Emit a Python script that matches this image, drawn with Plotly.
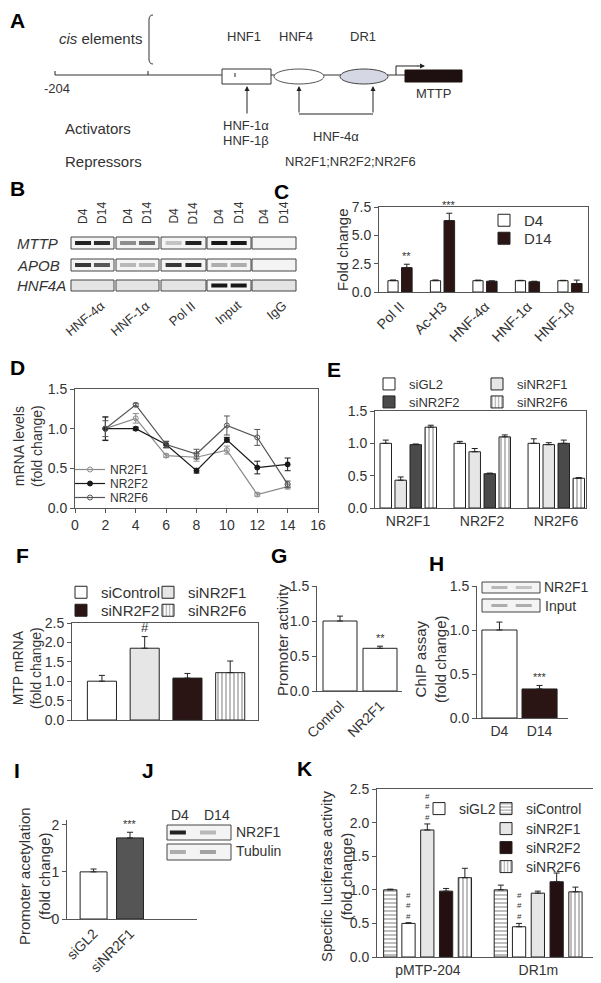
import plotly.graph_objects as go

# the page body has an 8px margin, so the figure is drawn 8px in from the corner
OFF = 8
W, H = 601 - OFF, 983 - OFF
FONT = "Liberation Sans, Arial, sans-serif"
INK = "#222222"
AXC = "#555555"
TXT = "#333333"

# ---- data ----
# C: ChIP at MTTP promoter
c_targets = ["Pol II", "Ac-H3", "HNF-4α", "HNF-1α", "HNF-1β"]
c_d4 = [1.0, 1.0, 1.0, 1.0, 1.0]
c_d4_err = [0.06, 0.06, 0.05, 0.03, 0.03]
c_d14 = [2.15, 6.3, 0.95, 0.9, 0.75]
c_d14_err = [0.3, 0.65, 0.03, 0.05, 0.3]

# D: mRNA time course
d_days = [2, 4, 6, 8, 10, 12, 14]
d_nr2f1 = [1.0, 1.13, 0.66, 0.64, 0.73, 0.17, 0.27]
d_nr2f1_err = [0.14, 0.06, 0.02, 0.05, 0.05, 0.02, 0.03]
d_nr2f2 = [1.0, 1.0, 0.8, 0.47, 0.86, 0.51, 0.55]
d_nr2f2_err = [0.15, 0.02, 0.04, 0.03, 0.03, 0.08, 0.08]
d_nr2f6 = [1.0, 1.3, 0.8, 0.68, 1.04, 0.89, 0.3]
d_nr2f6_err = [0.1, 0.02, 0.04, 0.06, 0.12, 0.1, 0.04]

# E: knockdown efficiency
e_genes = ["NR2F1", "NR2F2", "NR2F6"]
e_sigl2 = [1.0, 1.0, 1.0]
e_sigl2_err = [0.05, 0.03, 0.07]
e_sinr2f1 = [0.43, 0.87, 0.98]
e_sinr2f1_err = [0.05, 0.05, 0.03]
e_sinr2f2 = [0.98, 0.53, 1.0]
e_sinr2f2_err = [0.01, 0.01, 0.05]
e_sinr2f6 = [1.25, 1.1, 0.46]
e_sinr2f6_err = [0.03, 0.03, 0.01]

# F: MTP mRNA
f_groups = ["siControl", "siNR2F1", "siNR2F2", "siNR2F6"]
f_mtp = [1.0, 1.85, 1.08, 1.22]
f_err = [0.15, 0.3, 0.12, 0.3]

# G: promoter activity
g_cond = ["Control", "NR2F1"]
g_val = [1.0, 0.61]
g_err = [0.07, 0.03]

# H: ChIP assay NR2F1
h_day = ["D4", "D14"]
h_val = [1.0, 0.33]
h_err = [0.09, 0.04]

# I: promoter acetylation
i_cond = ["siGL2", "siNR2F1"]
i_val = [1.0, 1.72]
i_err = [0.06, 0.12]

# K: luciferase
k_constructs = ["pMTP-204", "DR1m"]
k_sicontrol = [1.0, 1.0]
k_sicontrol_err = [0.01, 0.07]
k_sigl2 = [0.5, 0.45]
k_sigl2_err = [0.01, 0.05]
k_sinr2f1 = [1.89, 0.95]
k_sinr2f1_err = [0.09, 0.03]
k_sinr2f2 = [0.98, 1.12]
k_sinr2f2_err = [0.04, 0.13]
k_sinr2f6 = [1.18, 0.97]
k_sinr2f6_err = [0.14, 0.07]

# blot band intensities (0 = none, 1 = strong), two lanes per box
b_rows = ["MTTP", "APOB", "HNF4A"]
b_antibodies = ["HNF-4α", "HNF-1α", "Pol II", "Input", "IgG"]
b_bands = [
    [0.95, 0.9, 0.45, 0.6, 0.2, 0.95, 1.0, 1.0, 0, 0],
    [0.85, 0.7, 0.25, 0.25, 0.85, 0.9, 0.3, 0.3, 0, 0],
    [0, 0, 0, 0, 0, 0, 1.0, 1.0, 0, 0],
]


# positions below are given in screenshot pixels
def px(x):
    return (x - OFF) / W


def py(y):
    return 1 - (y - OFF) / H


def dom_x(a, b):
    return [px(a), px(b)]


def dom_y(top, bottom):
    return [py(bottom), py(top)]


shapes = []
annotations = []
legends = {}


def line(x0, y0, x1, y1, color=INK, width=1):
    shapes.append(dict(type="line", xref="paper", yref="paper", x0=px(x0), y0=py(y0),
                       x1=px(x1), y1=py(y1), line=dict(color=color, width=width)))


def rect(x0, y0, x1, y1, fill="white", color=INK, width=1, kind="rect"):
    shapes.append(dict(type=kind, xref="paper", yref="paper", x0=px(x0), y0=py(y1),
                       x1=px(x1), y1=py(y0), fillcolor=fill,
                       line=dict(color=color, width=width), layer="above"))


def text(x, y, s, size=13, xanchor="center", yanchor="middle", angle=0, color=TXT):
    annotations.append(dict(xref="paper", yref="paper", x=px(x), y=py(y), text=s,
                            showarrow=False, font=dict(size=size, color=color, family=FONT),
                            xanchor=xanchor, yanchor=yanchor, textangle=angle))


def arrow(x, y, ax, ay):
    annotations.append(dict(xref="paper", yref="paper", x=px(x), y=py(y), ax=ax, ay=ay,
                            showarrow=True, arrowhead=2, arrowsize=1, arrowwidth=1,
                            arrowcolor=INK, text=""))


def band_color(k):
    g = int(238 - k * 215)
    return "rgb(%d,%d,%d)" % (g, g, g)


def blot(x0, y0, x1, y1, lanes, intens, bw=16, bh=4, fill="#f4f4f4"):
    rect(x0, y0, x1, y1, fill=fill, color="#444444", width=1)
    yc = (y0 + y1) / 2
    for fx, k in zip(lanes, intens):
        if k <= 0:
            continue
        xc = x0 + fx * (x1 - x0)
        rect(xc - bw / 2, yc - bh / 2, xc + bw / 2, yc + bh / 2, fill=band_color(k),
             color=band_color(k), width=0)


def leg(sym_x, center_y, size):
    # one legend per item, placed by its symbol centre and row centre
    key = "legend" if not legends else "legend%d" % (len(legends) + 1)
    legends[key] = dict(x=px(sym_x - 20), y=py(center_y - 14), xanchor="left", yanchor="top",
                        bgcolor="rgba(0,0,0,0)", font=dict(size=size, color=TXT, family=FONT),
                        itemclick=False, itemdoubleclick=False)
    return key


def up_err(err):
    return dict(type="data", array=err, arrayminus=[0] * len(err), symmetric=False,
                color=INK, thickness=1, width=3)


def sym_err(err, color):
    return dict(type="data", array=err, color=color, thickness=1, width=3)


def bar_marker(color, pattern=None):
    m = dict(color=color, line=dict(color=INK, width=1))
    if pattern:
        m["pattern"] = dict(shape=pattern, fgcolor=INK, bgcolor="white", size=4, solidity=0.3)
    return m


fig = go.Figure()

# ---- C ----
fig.add_trace(go.Bar(x=c_targets, y=c_d4, name="D4", width=0.24, offset=-0.29,
                     marker=bar_marker("white"), error_y=up_err(c_d4_err),
                     xaxis="x", yaxis="y", legend=leg(504, 218, 15)))
fig.add_trace(go.Bar(x=c_targets, y=c_d14, name="D14", width=0.25, offset=0.03,
                     marker=bar_marker("#2a1414"), error_y=up_err(c_d14_err),
                     xaxis="x", yaxis="y", legend=leg(504, 236, 15)))

# ---- D ----
for name, vals, err, color, sym, ly in [
    ("NR2F1", d_nr2f1, d_nr2f1_err, "#8a8a8a", "circle-open", 469),
    ("NR2F2", d_nr2f2, d_nr2f2_err, "#1a1a1a", "circle", 483),
    ("NR2F6", d_nr2f6, d_nr2f6_err, "#555555", "circle-open", 497),
]:
    fig.add_trace(go.Scatter(x=d_days, y=vals, name=name, mode="lines+markers",
                             line=dict(color=color, width=1.2),
                             marker=dict(symbol=sym, size=5, color=color, line=dict(width=1, color=color)),
                             error_y=sym_err(err, color), xaxis="x2", yaxis="y2",
                             legend=leg(90, ly, 12)))

# ---- E ----
for name, vals, err, color, pat, off, lx, ly in [
    ("siGL2", e_sigl2, e_sigl2_err, "white", None, -0.378, 389, 383),
    ("siNR2F1", e_sinr2f1, e_sinr2f1_err, "#e6e6e6", None, -0.176, 497, 383),
    ("siNR2F2", e_sinr2f2, e_sinr2f2_err, "#4a4a4a", None, 0.027, 389, 401),
    ("siNR2F6", e_sinr2f6, e_sinr2f6_err, "white", "|", 0.23, 497, 401),
]:
    fig.add_trace(go.Bar(x=e_genes, y=vals, name=name, width=0.155, offset=off,
                         marker=bar_marker(color, pat), error_y=up_err(err),
                         xaxis="x3", yaxis="y3", legend=leg(lx, ly, 13)))

# ---- F ----
f_style = [("white", None, 81, 590), ("#e6e6e6", None, 168, 590),
           ("#2a1414", None, 81, 608), ("white", "|", 168, 608)]
for i, (color, pat, lx, ly) in enumerate(f_style):
    fig.add_trace(go.Bar(x=[f_groups[i]], y=[f_mtp[i]], name=f_groups[i], width=0.68,
                         marker=bar_marker(color, pat), error_y=up_err([f_err[i]]),
                         xaxis="x4", yaxis="y4", legend=leg(lx, ly, 15)))

# ---- G ----
fig.add_trace(go.Bar(x=g_cond, y=g_val, width=0.85, marker=bar_marker("white"),
                     error_y=up_err(g_err), xaxis="x5", yaxis="y5", showlegend=False))

# ---- H ----
fig.add_trace(go.Bar(x=h_day, y=h_val, width=0.875, marker=bar_marker(["white", "#2a1414"]),
                     error_y=up_err(h_err), xaxis="x6", yaxis="y6", showlegend=False))

# ---- I ----
fig.add_trace(go.Bar(x=i_cond, y=i_val, width=0.74, marker=bar_marker(["white", "#555555"]),
                     error_y=up_err(i_err), xaxis="x7", yaxis="y7", showlegend=False))

# ---- K ----
for name, vals, err, color, pat, off, lx, ly in [
    ("siControl", k_sicontrol, k_sicontrol_err, "white", "-", -0.40, 506, 807),
    ("siGL2", k_sigl2, k_sigl2_err, "white", None, -0.235, 439, 807),
    ("siNR2F1", k_sinr2f1, k_sinr2f1_err, "#e6e6e6", None, -0.065, 506, 827),
    ("siNR2F2", k_sinr2f2, k_sinr2f2_err, "#241010", None, 0.105, 506, 846),
    ("siNR2F6", k_sinr2f6, k_sinr2f6_err, "white", "|", 0.275, 506, 865),
]:
    fig.add_trace(go.Bar(x=k_constructs, y=vals, name=name, width=0.12, offset=off,
                         marker=bar_marker(color, pat), error_y=up_err(err),
                         xaxis="x8", yaxis="y8", legend=leg(lx, ly, 14)))


# ---- axes ----
def yax(domain, rng, dtick, fmt, anchor, box):
    return dict(domain=domain, range=rng, dtick=dtick, tickformat=fmt, anchor=anchor,
                showline=True, linecolor=AXC, linewidth=1, mirror=box, ticks="outside",
                ticklen=4, tickcolor=AXC, tickfont=dict(size=14, color=TXT, family=FONT),
                showgrid=False, zeroline=False, automargin=False)


def xax(domain, anchor, box, rng=None, angle=0, labels=True, ticks=""):
    d = dict(domain=domain, anchor=anchor, showline=True, linecolor=AXC, linewidth=1,
             mirror=box, ticks=ticks, ticklen=4, tickcolor=AXC, tickangle=angle,
             showticklabels=labels, tickfont=dict(size=14, color=TXT, family=FONT),
             showgrid=False, zeroline=False, automargin=False)
    if rng is not None:
        d["range"] = rng
    return d


layout_axes = dict(
    xaxis=xax(dom_x(379, 588), "y", True, [-0.5, 4.42], angle=-45),
    yaxis=yax(dom_y(207, 292), [0, 7.5], 2.5, ".1f", "x", True),
    xaxis2=dict(xax(dom_x(75, 318), "y2", True, [0, 16], ticks="outside"), dtick=2),
    yaxis2=yax(dom_y(389, 508), [0, 1.5], 0.5, ".1f", "x2", True),
    xaxis3=xax(dom_x(375, 586), "y3", True, [-0.446, 2.405]),
    yaxis3=yax(dom_y(411, 508), [0, 1.5], 0.5, ".1f", "x3", True),
    xaxis4=xax(dom_x(72, 258), "y4", True, [-0.7, 3.65], labels=False),
    yaxis4=yax(dom_y(623, 720), [0, 2.5], 0.5, ".1f", "x4", True),
    xaxis5=xax(dom_x(317, 402), "y5", False, [-0.575, 1.55], angle=-45),
    yaxis5=yax(dom_y(586, 691), [0, 1.5], 0.5, ".1f", "x5", False),
    xaxis6=xax(dom_x(477, 568), "y6", False, [-0.56, 1.71]),
    yaxis6=yax(dom_y(586, 718), [0, 1.5], 0.5, ".1f", "x6", False),
    xaxis7=xax(dom_x(67, 197), "y7", False, [-0.73, 2.84], angle=-45),
    yaxis7=yax(dom_y(820, 919), [0, 2.1], 1, "d", "x7", False),
    xaxis8=xax(dom_x(377, 597), "y8", True, [-0.46, 1.53]),
    yaxis8=yax(dom_y(789, 957), [0, 2.5], 0.5, ".1f", "x8", True),
)

# ---- panel letters ----
for s, x, y in [("A", 17, 21), ("B", 17, 188), ("C", 281, 191), ("D", 17, 367),
                ("E", 334, 369), ("F", 22, 555), ("G", 279, 555), ("H", 436, 563),
                ("I", 17, 770), ("J", 148, 770), ("K", 304, 768)]:
    text(x, y, "<b>%s</b>" % s, size=21, color="#000000")

# ---- A: promoter diagram ----
line(55, 75, 405, 75, color="#333333")
line(55, 71, 55, 75)
line(148, 71, 148, 75)
shapes.append(dict(type="path", xref="paper", yref="paper",
                   path="M %f %f Q %f %f %f %f L %f %f Q %f %f %f %f" % (
                       px(153), py(15), px(149), py(15), px(149), py(20),
                       px(149), py(59), px(149), py(64), px(153), py(64)),
                   line=dict(color="#333333", width=1)))
rect(222, 69, 271, 84, fill="white", color="#333333")
line(235, 73, 235, 77)
rect(274, 69, 324, 84, fill="white", color="#555555", kind="circle")
rect(340, 69, 388, 84, fill="#d5d8e4", color="#444444", kind="circle")
rect(405, 70, 462, 82, fill="#1e1010", color="#1e1010")
shapes.append(dict(type="path", xref="paper", yref="paper",
                   path="M %f %f L %f %f L %f %f" % (px(396), py(75), px(396), py(66), px(418), py(66)),
                   line=dict(color=INK, width=1)))
arrow(425, 66, -9, 0)
arrow(247, 86, 0, 29)
arrow(299, 86, 0, 28)
arrow(373, 86, 0, 28)
line(299, 114, 373, 114)

text(100, 38, "<i>cis</i> elements", size=15)
text(244, 37, "HNF1", size=13)
text(296, 37, "HNF4", size=13)
text(363, 37, "DR1", size=13)
text(57, 88, "-204", size=13)
text(433, 94, "MTTP", size=13)
text(63, 128, "Activators", size=15, xanchor="left")
text(246, 125, "HNF-1α", size=13)
text(246, 141, "HNF-1β", size=13)
text(336, 136, "HNF-4α", size=13)
text(63, 161, "Repressors", size=15, xanchor="left")
text(350, 161, "NR2F1;NR2F2;NR2F6", size=13)

# ---- B: ChIP blots ----
b_boxes = [(71, 114), (116, 159), (161, 206), (207, 251), (252, 296)]
b_rows_y = [(237, 249), (259, 271), (280, 291)]
for r, (y0, y1) in enumerate(b_rows_y):
    text(15, (y0 + y1) / 2, "<i>%s</i>" % b_rows[r], size=15, xanchor="left")
    for b, (x0, x1) in enumerate(b_boxes):
        fill = "#e4e4e4" if (r == 2 and b != 3) else "#f4f4f4"
        blot(x0, y0, x1, y1, [0.28, 0.72], b_bands[r][2 * b:2 * b + 2], fill=fill)
for b, (x0, x1) in enumerate(b_boxes):
    text(x0 + 0.28 * (x1 - x0), 226, "D4", size=12, yanchor="bottom", angle=-90)
    text(x0 + 0.72 * (x1 - x0), 226, "D14", size=12, yanchor="bottom", angle=-90)
    text((x0 + x1) / 2 + 18, 295, b_antibodies[b], size=13, xanchor="right",
         yanchor="top", angle=-40)

# ---- H inset blots ----
blot(482, 582, 540, 593, [0.3, 0.72], [0.25, 0.2], bh=3)
blot(482, 599, 540, 612, [0.3, 0.72], [0.3, 0.3], bh=3)
text(542, 587, "NR2F1", size=14, xanchor="left")
text(543, 606, "Input", size=14, xanchor="left")

# ---- J blots ----
blot(167, 825, 231, 840, [0.17, 0.64], [0.95, 0.25])
blot(167, 844, 231, 860, [0.17, 0.64], [0.3, 0.35])
text(180, 815, "D4", size=14)
text(217, 815, "D14", size=14)
text(234, 832, "NR2F1", size=14, xanchor="left")
text(234, 851, "Tubulin", size=14, xanchor="left")

# ---- axis titles ----
text(343, 250, "Fold change", size=15, angle=-90)
text(28, 446, "mRNA levels<br>(fold change)", size=14, angle=-90)
text(27, 668, "MTP mRNA<br>(fold change)", size=14, angle=-90)
text(282, 640, "Promoter activity", size=15, angle=-90)
text(430, 659, "ChIP assay<br>(fold change)", size=15, angle=-90)
text(34, 876, "Promoter acetylation<br>(fold change)", size=15, angle=-90)
text(336, 877, "Specific luciferase activity<br>(fold change)", size=15, angle=-90)


# ---- significance marks ----
def mark(xref, yref, x, y, s, size=11):
    annotations.append(dict(xref=xref, yref=yref, x=x, y=y, text=s, showarrow=False,
                            yanchor="bottom", font=dict(size=size, color=TXT, family=FONT)))


mark("x", "y", 0.155, c_d14[0] + c_d14_err[0], "**")
mark("x", "y", 1.155, c_d14[1] + c_d14_err[1], "***")
mark("x4", "y4", 1, f_mtp[1] + f_err[1], "#", size=13)
mark("x5", "y5", 1, g_val[1] + g_err[1], "**")
mark("x6", "y6", 1, h_val[1] + h_err[1], "***")
mark("x7", "y7", 1, i_val[1] + i_err[1], "***")
mark("x8", "y8", -0.175, k_sigl2[0] + k_sigl2_err[0], "#<br>#<br>#", size=8)
mark("x8", "y8", 0.825, k_sigl2[1] + k_sigl2_err[1], "#<br>#<br>#", size=8)
mark("x8", "y8", -0.005, k_sinr2f1[0] + k_sinr2f1_err[0], "#<br>#<br>#", size=8)

fig.update_layout(
    width=W, height=H, margin=dict(l=0, r=0, t=0, b=0, autoexpand=False),
    paper_bgcolor="white", plot_bgcolor="white",
    font=dict(family=FONT, color=TXT),
    barmode="overlay", showlegend=True,
    shapes=shapes, annotations=annotations,
    **layout_axes, **legends,
)

fig.write_html("out.html")
